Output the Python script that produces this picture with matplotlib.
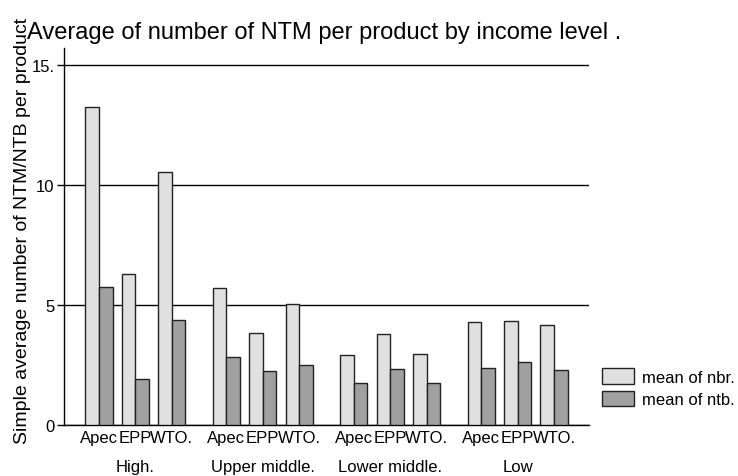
import matplotlib.pyplot as plt
import numpy as np
from matplotlib.patches import Patch

plt.rcParams['font.family'] = ['Liberation Sans', 'DejaVu Sans']

income = ["High.", "Upper middle.", "Lower middle.", "Low"]
groups = ["Apec", "EPP", "WTO."]
nbr = [[13.24, 6.29, 10.53],
       [5.70, 3.85, 5.04],
       [2.90, 3.80, 2.94],
       [4.29, 4.32, 4.15]]
ntb = [[5.74, 1.92, 4.39],
       [2.85, 2.26, 2.51],
       [1.74, 2.32, 1.76],
       [2.36, 2.61, 2.30]]

W, H = 738, 477
fig = plt.figure(figsize=(W / 100, H / 100), dpi=100)
ax = fig.add_axes([64 / W, (H - 426) / H, (589 - 64) / W, (426 - 49) / H])

bw = 0.375
light = '#e0e0e0'
dark = '#a0a0a0'
edge = '#222222'

centers = []
for g in range(len(income)):
    for i in range(len(groups)):
        c = g * 3.5 + i
        centers.append(c)
        ax.bar(c - bw / 2, nbr[g][i], width=bw, color=light, edgecolor=edge, linewidth=1, zorder=3)
        ax.bar(c + bw / 2, ntb[g][i], width=bw, color=dark, edgecolor=edge, linewidth=1, zorder=3)

ax.set_xlim(-0.96, 13.46)
ax.set_ylim(0, 15.71)
ax.set_yticks([0, 5, 10, 15])
ax.set_yticklabels(["0", "5", "10", "15."], fontsize=12)
ax.yaxis.grid(True, color='black', linewidth=1)
ax.set_axisbelow(True)
ax.tick_params(axis='y', length=5, width=1, pad=2)
ax.set_xticks(centers)
ax.set_xticklabels(groups * len(income), fontsize=12)
ax.tick_params(axis='x', length=0, pad=3.5)

for s in ['top', 'right']:
    ax.spines[s].set_visible(False)
ax.spines['left'].set_linewidth(1)
ax.spines['bottom'].set_linewidth(1)

for g, name in enumerate(income):
    ax.text(g * 3.5 + 1, -0.1088, name, transform=ax.get_xaxis_transform(),
            ha='center', va='center', fontsize=12)

fig.text(22.5 / W, 1 - 230.5 / H, "Simple average number of NTM/NTB per product",
         rotation=90, ha='center', va='center', fontsize=14)

fig.text(27 / W, 1 - 39.3 / H, "Average of number of NTM per product by income level .",
         fontsize=17, ha='left', va='baseline')

handles = [Patch(facecolor=light, edgecolor=edge, linewidth=1),
           Patch(facecolor=dark, edgecolor=edge, linewidth=1)]
fig.legend(handles, ["mean of nbr.", "mean of ntb."], loc='upper left',
           bbox_to_anchor=(601.5 / W, 1 - 369 / H), frameon=False, fontsize=12,
           borderpad=0, borderaxespad=0,
           handlelength=1.92, handleheight=1.08, handletextpad=0.48, labelspacing=0.36)

fig.savefig("out.png", dpi=100)
